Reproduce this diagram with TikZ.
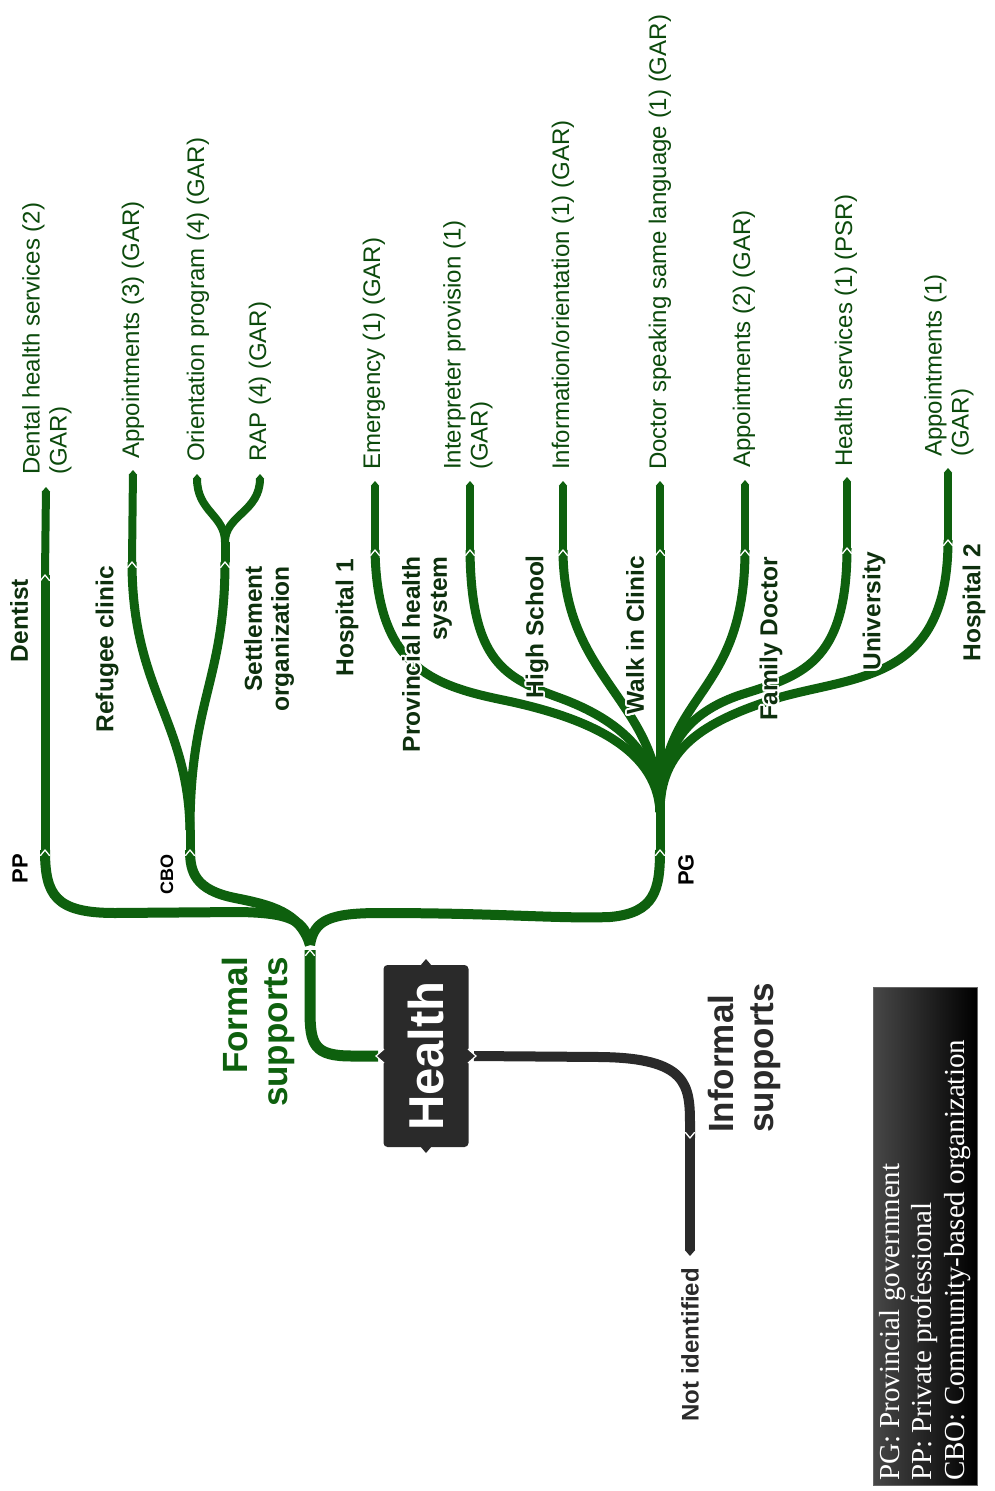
\documentclass[tikz,border=0pt]{standalone}
\usepackage{fontspec}
\setmainfont{Liberation Sans}
\newfontfamily\legendfont{Liberation Serif}
\usepackage{contour}
\contourlength{1.8pt}
\contournumber{20}
\usetikzlibrary{arrows.meta,calc}

\definecolor{branch}{RGB}{14,96,14}
\definecolor{leaftext}{RGB}{12,74,12}
\definecolor{midtext}{RGB}{14,48,14}
\definecolor{dark}{RGB}{42,42,42}

\newcommand\halo[1]{\contour{white}{#1}}

\tikzset{
  trunkline/.style={draw=branch, line width=11pt},
  armline/.style={draw=branch, line width=10pt},
  twigline/.style={draw=branch, line width=9pt},
  leafline/.style={draw=branch, line width=8pt, -{Triangle[length=0pt 0.6, width=0pt 1]}},
  darkline/.style={draw=dark, line width=10pt},
  notchmark/.style={draw=white, line width=1.3pt, line cap=round, line join=round},
  leaflabel/.style={rotate=90, anchor=west, align=left, inner sep=0pt, text=leaftext,
    font=\fontsize{24}{27}\selectfont},
  midlabel/.style={rotate=90, anchor=east, align=right, inner sep=0pt, text=midtext,
    font=\bfseries\fontsize{24.5}{27}\selectfont},
  grouplabel/.style={rotate=90, anchor=east, inner sep=0pt, text=black,
    font=\bfseries\fontsize{22}{26}\selectfont},
}

% white up/down chevron where a branch meets a node
\newcommand\upnotch[1]{\draw[notchmark] ($(#1)+(-4.5,5.5)$) -- (#1) -- ($(#1)+(4.5,5.5)$);}
\newcommand\downnotch[1]{\draw[notchmark] ($(#1)+(-4.5,-5.5)$) -- (#1) -- ($(#1)+(4.5,-5.5)$);}

\begin{document}
\begin{tikzpicture}[x=1pt, y=-1pt]
\useasboundingbox (0,0) rectangle (994,1491);
\fill[white] (0,0) rectangle (994,1491);

% ---------- node points ----------
\coordinate (trunkN) at (310,950);
\coordinate (split) at (310,945);
\coordinate (ppN) at (45,850);
\coordinate (cboN) at (190,850);
\coordinate (pgN) at (660,850);
\coordinate (pgfan) at (660,812);
\coordinate (cbofan) at (190,830);
\coordinate (dentN) at (45,575);
\coordinate (refN) at (132,562);
\coordinate (setN) at (225,562);
\coordinate (setfan) at (225,542);
\coordinate (infN) at (690,1138);
\coordinate (hosp1) at (375,550);
\coordinate (prov) at (470,550);
\coordinate (high) at (563,550);
\coordinate (walk) at (660,550);
\coordinate (fam) at (745,550);
\coordinate (univ) at (847,548);
\coordinate (hosp2) at (948,540);

% ---------- formal supports (green) ----------
\draw[trunkline] (378,1056) -- (352,1056) .. controls (314,1056) and (310,1045) .. (310,1010) -- (trunkN);
\draw[armline] (split) .. controls (305,920) and (290,913) .. (240,912)
   -- (115,913) .. controls (55,913) and (45,895) .. (ppN);
\draw[armline] (split) .. controls (300,912) and (270,905) .. (235,898)
   .. controls (195,890) and (190,872) .. (cboN);
\draw[armline] (split) .. controls (314,920) and (330,913) .. (380,913)
   .. controls (500,913) and (560,919) .. (610,917)
   .. controls (655,913) and (660,890) .. (pgN);

% private professional
\draw[twigline] (ppN) -- (dentN);
\draw[leafline] (dentN) -- (46,487);

% community-based organization
\draw[twigline] (cboN) -- (cbofan);
\draw[twigline] (cbofan) .. controls (188,720) and (132,690) .. (refN);
\draw[twigline] (cbofan) .. controls (190,700) and (225,680) .. (setN);
\draw[leafline] (refN) -- (133,470);
\draw[twigline] (setN) -- (setfan);
\draw[leafline] (setfan) .. controls (225,515) and (197,512) .. (197,474);
\draw[leafline] (setfan) .. controls (225,515) and (260,512) .. (260,474);

% provincial government
\draw[twigline] (pgN) -- (pgfan);
\draw[twigline] (pgfan) .. controls (657,745) and (580,716) .. (503,700)
   .. controls (430,685) and (377,665) .. (hosp1);
\draw[twigline] (pgfan) .. controls (658,755) and (620,720) .. (560,698)
   .. controls (505,678) and (471,662) .. (prov);
\draw[twigline] (pgfan) .. controls (660,700) and (563,680) .. (high);
\draw[twigline] (pgfan) -- (walk);
\draw[twigline] (pgfan) .. controls (660,690) and (745,700) .. (fam);
\draw[twigline] (pgfan) .. controls (660,745) and (690,712) .. (740,695)
   .. controls (800,676) and (847,665) .. (univ);
\draw[twigline] (pgfan) .. controls (660,750) and (700,722) .. (781,697)
   .. controls (860,675) and (948,680) .. (hosp2);
\draw[leafline] (hosp1) -- (375,481);
\draw[leafline] (prov) -- (470,481);
\draw[leafline] (high) -- (563,481);
\draw[leafline] (walk) -- (660,481);
\draw[leafline] (fam) -- (745,480);
\draw[leafline] (univ) -- (847,477);
\draw[leafline] (hosp2) -- (948,468);

% ---------- informal supports (dark) ----------
\draw[darkline] (474,1056) -- (600,1057) .. controls (688,1058) and (690,1085) .. (690,1125) -- (infN);
\draw[darkline, -{Triangle[length=0pt 0.6, width=0pt 1]}] (infN) -- (690,1256);

% ---------- central topic ----------
\node (health) [fill=dark, rounded corners=4pt, minimum width=85pt, minimum height=182pt,
  inner sep=0pt] at (426,1056)
  {\rotatebox{90}{\color{white}\bfseries\fontsize{49}{52}\selectfont Health}};
\filldraw[dark, draw=white, line width=1.2pt] (384,1049) -- (376,1056) -- (384,1063);
\filldraw[dark, draw=white, line width=1.2pt] (468,1049) -- (476,1056) -- (468,1063);
\fill[dark] (420,966) -- (426,959) -- (432,966) -- cycle;
\fill[dark] (420,1146) -- (426,1153) -- (432,1146) -- cycle;

% ---------- chevrons at node joints ----------
\upnotch{trunkN}
\upnotch{ppN}\upnotch{cboN}\upnotch{pgN}
\upnotch{dentN}\upnotch{refN}\upnotch{setN}
\foreach \nm in {hosp1,prov,high,walk,fam,univ,hosp2}{\upnotch{\nm}}
\downnotch{infN}

% ---------- labels ----------
\node (formal) [rotate=90, anchor=east, align=right, inner sep=0pt, text=branch,
  font=\bfseries\fontsize{35}{40}\selectfont] at (258,957) {Formal\\supports};
\node (informal) [rotate=90, anchor=west, align=left, inner sep=0pt, text=dark,
  font=\bfseries\fontsize{35}{40}\selectfont] at (744,1133) {Informal\\supports};

\node (pp) [grouplabel] at (20,854) {PP};
\node (cbo) [grouplabel, font=\bfseries\fontsize{18}{22}\selectfont] at (167,854) {CBO};
\node (pg) [grouplabel] at (686,854) {PG};

\node (dentist) [midlabel] at (20,579) {\halo{Dentist}};
\node (refclinic) [midlabel] at (108,566) {\halo{Refugee clinic}};
\node (settle) [midlabel] at (270,566) {\halo{Settlement}\\\halo{organization}};
\node (hosp1lbl) [midlabel] at (348,559) {\halo{Hospital 1}};
\node (provlbl) [midlabel] at (428,556) {\halo{Provincial health}\\\halo{system}};
\node (highlbl) [midlabel] at (538,555) {\halo{High School}};
\node (walklbl) [midlabel] at (636,556) {\halo{Walk in Clinic}};
\node (famlbl) [midlabel] at (772,557) {\halo{Family Doctor}};
\node (univlbl) [midlabel] at (875,552) {\halo{University}};
\node (hosp2lbl) [midlabel] at (975,544) {\halo{Hospital 2}};

\node (dental) [leaflabel] at (47,475) {Dental health services (2)\\(GAR)};
\node (appt3) [leaflabel] at (133,459) {Appointments (3) (GAR)};
\node (orient) [leaflabel] at (198,462) {Orientation program (4) (GAR)};
\node (rap) [leaflabel] at (260,462) {RAP (4) (GAR)};
\node (emerg) [leaflabel] at (374,470) {Emergency (1) (GAR)};
\node (interp) [leaflabel] at (468,470) {Interpreter provision (1)\\(GAR)};
\node (info) [leaflabel] at (563,470) {Information/orientation (1) (GAR)};
\node (doctor) [leaflabel] at (660,470) {Doctor speaking same language (1) (GAR)};
\node (appt2) [leaflabel] at (744,468) {Appointments (2) (GAR)};
\node (hsvc) [leaflabel] at (846,467) {Health services (1) (PSR)};
\node (appt1) [leaflabel] at (949,457) {Appointments (1)\\(GAR)};

\node (notid) [rotate=90, anchor=east, inner sep=0pt, text=dark,
  font=\bfseries\fontsize{24}{27}\selectfont] at (690,1268) {Not identified};

% ---------- legend ----------
\shade[left color=black!72, right color=black] (873,987) rectangle (977,1485);
\draw[black!60, line width=0.8pt] (873,987) rectangle (977,1485);
\node (legend) [rotate=90, anchor=west, align=left, inner sep=0pt, text=white,
  font=\legendfont\fontsize{29}{32.5}\selectfont] at (925,1481)
  {PG: Provincial government\\PP: Private professional\\CBO: Community-based organization};
\end{tikzpicture}
\end{document}
